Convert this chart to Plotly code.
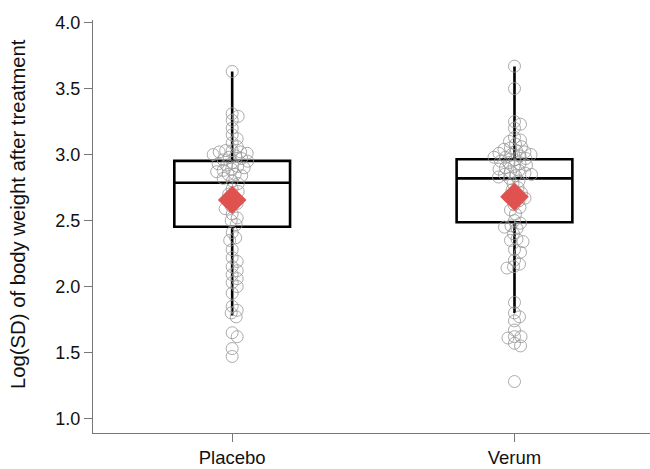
import math
import plotly.graph_objects as go

groups = ["Placebo", "Verum"]

placebo = [3.63, 3.31, 3.29, 3.26, 3.20, 3.15, 3.12, 3.09, 3.06, 3.03, 3.03, 3.02,
           3.02, 3.01, 3.00, 2.99, 2.98, 2.97, 2.96, 2.95, 2.94, 2.93, 2.92, 2.91,
           2.90, 2.89, 2.88, 2.87, 2.85, 2.85, 2.84, 2.82, 2.80, 2.78, 2.74, 2.72,
           2.70, 2.66, 2.63, 2.61, 2.59, 2.55, 2.52, 2.50, 2.47, 2.41, 2.37, 2.35,
           2.28, 2.22, 2.19, 2.15, 2.12, 2.09, 2.06, 2.03, 2.00, 1.95, 1.85, 1.82,
           1.80, 1.77, 1.65, 1.62, 1.53, 1.47]

verum = [3.67, 3.50, 3.25, 3.23, 3.20, 3.13, 3.11, 3.10, 3.08, 3.06, 3.05, 3.04,
         3.03, 3.02, 3.01, 3.00, 3.00, 2.99, 2.98, 2.98, 2.97, 2.96, 2.95, 2.94,
         2.93, 2.92, 2.91, 2.90, 2.89, 2.88, 2.87, 2.86, 2.85, 2.85, 2.84, 2.83,
         2.82, 2.80, 2.78, 2.75, 2.73, 2.71, 2.69, 2.68, 2.67, 2.65, 2.62, 2.60,
         2.58, 2.55, 2.50, 2.48, 2.46, 2.45, 2.44, 2.40, 2.36, 2.35, 2.34, 2.28,
         2.26, 2.20, 2.17, 2.15, 2.14, 1.88, 1.80, 1.77, 1.74, 1.67, 1.62, 1.62,
         1.61, 1.57, 1.55, 1.28]

# box summary (Tukey, whiskers at 1.5 IQR)
q1 = [2.453, 2.487]
median = [2.787, 2.820]
q3 = [2.952, 2.965]
lower_whisker = [1.78, 1.80]
upper_whisker = [3.63, 3.668]
means = [2.656, 2.680]

y_title = "Log(SD) of body weight after treatment"

y_range = [0.89, 4.02]
x_range = [-0.493, 1.48]
W, H = 650, 469
M = dict(l=93, r=0, t=20, b=36)
plot_w = W - M["l"] - M["r"]
plot_h = H - M["t"] - M["b"]
px_x = plot_w / (x_range[1] - x_range[0])
px_y = plot_h / (y_range[1] - y_range[0])


def swarm(values, dmin=6.3, step=0.5):
    placed = []
    offs = [0.0] * len(values)
    order = sorted(range(len(values)), key=lambda i: -values[i])
    for i in order:
        yv = values[i] * px_y
        k = 0
        while True:
            cands = [0.0] if k == 0 else [k * step, -k * step]
            ok_c = None
            for c in cands:
                if all((c - px) ** 2 + (yv - py) ** 2 >= dmin ** 2 for px, py in placed):
                    ok_c = c
                    break
            if ok_c is not None:
                placed.append((ok_c, yv))
                offs[i] = ok_c / px_x
                break
            k += 1
    return offs


fig = go.Figure()
for gi, vals in enumerate([placebo, verum]):
    offs = swarm(vals)
    fig.add_trace(go.Scatter(
        x=[gi + o for o in offs], y=vals, mode="markers",
        marker=dict(symbol="circle-open", size=12, color="rgba(150,150,150,0.8)",
                    line=dict(width=1)),
        showlegend=False, hoverinfo="y"))

fig.add_trace(go.Box(
    x=[0, 1], q1=q1, median=median, q3=q3,
    lowerfence=lower_whisker, upperfence=upper_whisker,
    width=0.41, whiskerwidth=0, boxpoints=False,
    fillcolor="rgba(0,0,0,0)", line=dict(color="black", width=2.6),
    showlegend=False, hoverinfo="skip"))

fig.add_trace(go.Scatter(
    x=[0, 1], y=means, mode="markers",
    marker=dict(symbol="diamond", size=22, color="#E0524F", line=dict(width=0)),
    showlegend=False))

fig.add_annotation(
    text=y_title, textangle=-90, showarrow=False,
    xref="paper", yref="paper",
    x=(18 - M["l"]) / plot_w, y=(H - M["b"] - 214) / plot_h,
    xanchor="center", yanchor="middle",
    font=dict(family="Liberation Sans, Arial, sans-serif", size=20.3, color="#111"))

axis_font = dict(family="Liberation Sans, Arial, sans-serif", size=18, color="#111")
fig.update_layout(
    width=W, height=H, margin=M,
    paper_bgcolor="white", plot_bgcolor="white",
    font=axis_font,
    xaxis=dict(range=x_range, tickvals=[0, 1], ticktext=groups, automargin=False,
               showline=True, linecolor="#777", linewidth=1,
               ticks="outside", ticklen=8, tickcolor="#777",
               showgrid=False, zeroline=False, tickfont=dict(size=18.5)),
    yaxis=dict(range=y_range, tickvals=[1.0, 1.5, 2.0, 2.5, 3.0, 3.5, 4.0],
               ticktext=["1.0", "1.5", "2.0", "2.5", "3.0", "3.5", "4.0"],
               automargin=False,
               showline=True, linecolor="#777", linewidth=1,
               ticks="outside", ticklen=8, tickcolor="#777",
               showgrid=False, zeroline=False, tickfont=dict(size=18)),
)

fig.write_html("out.html", config={"displayModeBar": False},
               post_script="document.body.style.margin='0';document.body.style.overflow='hidden';")
